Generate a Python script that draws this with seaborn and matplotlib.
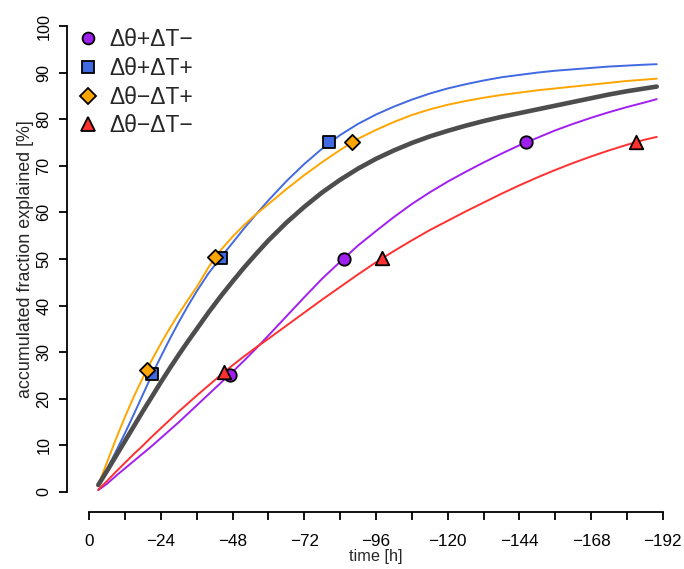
import numpy as np
import pandas as pd
import matplotlib
matplotlib.use("Agg")
import matplotlib.pyplot as plt
import seaborn as sns
from matplotlib.lines import Line2D

# ---- data (hours before event, accumulated fraction explained in %) ----
hours = [3, 6, 9, 12, 15, 18, 21, 24, 27, 30, 33, 36, 40, 44, 48, 52, 56, 60, 66, 72,
         78, 84, 90, 96, 102, 108, 114, 120, 126, 132, 138, 144, 150, 156, 162, 168,
         174, 180, 186, 190]
all_cases = [1.5, 4.6, 7.8, 11.0, 14.2, 17.4, 20.5, 23.6, 26.6, 29.5, 32.3, 35.0, 38.6,
             42.0, 45.2, 48.3, 51.2, 54.0, 57.8, 61.2, 64.3, 67.0, 69.4, 71.5, 73.3, 74.9,
             76.3, 77.5, 78.6, 79.6, 80.5, 81.3, 82.1, 82.9, 83.7, 84.5, 85.3, 86.0, 86.6, 87.0]
th_pos_T_neg = [0.4, 1.8, 3.5, 5.1, 6.7, 8.3, 9.9, 11.6, 13.3, 15.0, 16.8, 18.6, 21.0,
                23.4, 25.8, 28.3, 30.9, 33.6, 37.7, 41.8, 45.8, 49.4, 52.9, 56.0, 59.0,
                61.8, 64.3, 66.6, 68.7, 70.7, 72.6, 74.4, 76.0, 77.6, 79.0, 80.3, 81.5,
                82.6, 83.6, 84.3]
th_pos_T_pos = [1.5, 5.0, 8.8, 12.7, 16.8, 21.0, 25.2, 29.1, 32.9, 36.5, 39.9, 43.1, 47.0,
                50.3, 53.5, 56.7, 59.7, 62.6, 66.7, 70.4, 73.7, 76.6, 79.0, 81.0, 82.7,
                84.2, 85.5, 86.6, 87.5, 88.3, 89.0, 89.5, 90.0, 90.4, 90.7, 91.0, 91.3,
                91.5, 91.7, 91.8]
th_neg_T_pos = [1.5, 6.5, 11.5, 16.2, 20.6, 24.6, 28.4, 31.9, 35.2, 38.3, 41.2, 44.0, 48.3,
                51.9, 54.8, 57.4, 59.7, 61.8, 65.0, 68.0, 70.8, 73.4, 75.8, 77.7, 79.4,
                80.9, 82.1, 83.1, 83.9, 84.6, 85.2, 85.7, 86.2, 86.6, 87.0, 87.4, 87.8,
                88.2, 88.5, 88.7]
th_neg_T_neg = [0.5, 2.4, 4.4, 6.3, 8.2, 10.0, 11.9, 13.7, 15.5, 17.3, 19.0, 20.7, 22.9,
                25.1, 27.2, 29.2, 31.1, 32.9, 35.7, 38.5, 41.3, 44.0, 46.7, 49.3, 51.7,
                54.0, 56.2, 58.2, 60.2, 62.1, 64.0, 65.8, 67.5, 69.1, 70.6, 72.0, 73.3,
                74.5, 75.6, 76.2]

series_names = ["Δθ+ΔT−", "Δθ+ΔT+", "Δθ−ΔT+", "Δθ−ΔT−"]
series_values = [th_pos_T_neg, th_pos_T_pos, th_neg_T_pos, th_neg_T_neg]

# marker points (hours, %)
mark_hours = {
    "Δθ+ΔT−": [47.1, 85.3, 146.2],
    "Δθ+ΔT+": [21.0, 44.1, 80.3],
    "Δθ−ΔT+": [19.3, 42.1, 88.0],
    "Δθ−ΔT−": [45.1, 98.0, 183.1],
}
mark_vals = {
    "Δθ+ΔT−": [25.1, 50.0, 75.1],
    "Δθ+ΔT+": [25.3, 50.2, 75.2],
    "Δθ−ΔT+": [26.2, 50.4, 75.2],
    "Δθ−ΔT−": [25.8, 50.2, 75.2],
}

xticks = [0, -12, -24, -36, -48, -60, -72, -84, -96, -108, -120, -132, -144, -156, -168, -180, -192]
xticklabels = ["0", "", "−24", "", "−48", "", "−72", "", "−96", "", "−120", "", "−144", "", "−168", "", "−192"]
yticks = [0, 10, 20, 30, 40, 50, 60, 70, 80, 90, 100]

colors = {"Δθ+ΔT−": "#A020F0", "Δθ+ΔT+": "#4169E1", "Δθ−ΔT+": "#FFA500", "Δθ−ΔT−": "#FF3030"}
markers = {"Δθ+ΔT−": "o", "Δθ+ΔT+": "s", "Δθ−ΔT+": "D", "Δθ−ΔT−": "^"}
msize = {"Δθ+ΔT−": 80, "Δθ+ΔT+": 64, "Δθ−ΔT+": 60, "Δθ−ΔT−": 95}
lsize = {"Δθ+ΔT−": 8.5, "Δθ+ΔT+": 8, "Δθ−ΔT+": 8, "Δθ−ΔT−": 9.5}

sns.set_style("white")
plt.rcParams["font.family"] = ["Liberation Sans", "DejaVu Sans"]

fig = plt.figure(figsize=(6.84, 5.69), dpi=100)
W, H = 684, 569
x0, x1 = 89.3, 662.7
y0, y1 = 492.0, 26.0
ax = fig.add_axes([x0 / W, (H - y0) / H, (x1 - x0) / W, (y0 - y1) / H])

lines_df = pd.DataFrame({
    "time": np.concatenate([-np.array(hours)] * 4),
    "value": np.concatenate(series_values),
    "case": np.repeat(series_names, len(hours)),
})
all_df = pd.DataFrame({"time": -np.array(hours), "value": all_cases})

for name in series_names:
    sub = lines_df[lines_df["case"] == name]
    sns.lineplot(data=sub, x="time", y="value", color=colors[name], lw=1.4,
                 ax=ax, clip_on=False, sort=False)
sns.lineplot(data=all_df, x="time", y="value", color="#4D4D4D", lw=3.3, ax=ax,
             clip_on=False, sort=False)

for name in series_names:
    mdf = pd.DataFrame({"time": -np.array(mark_hours[name]), "value": mark_vals[name]})
    sns.scatterplot(data=mdf, x="time", y="value", marker=markers[name], s=msize[name],
                    color=colors[name], edgecolor="black", linewidth=1.3, ax=ax,
                    clip_on=False, zorder=5)

ax.set_xlim(0, -192)
ax.set_ylim(0, 100)

for s in ["top", "right"]:
    ax.spines[s].set_visible(False)
ax.spines["left"].set_position(("outward", 16.3))
ax.spines["bottom"].set_position(("outward", 14.2))
ax.spines["left"].set_bounds(0, 100)
ax.spines["bottom"].set_bounds(-192, 0)
for s in ["left", "bottom"]:
    ax.spines[s].set_color("black")
    ax.spines[s].set_linewidth(1.3)
ax.tick_params(axis="both", direction="out", length=6, width=1.3, color="black",
               labelcolor="black", bottom=True, left=True)
ax.tick_params(axis="x", pad=10, labelsize=12.3)
ax.tick_params(axis="y", pad=5, labelsize=11.7)
ax.grid(False)

ax.set_xticks(xticks)
ax.set_xticklabels(xticklabels)
ax.set_yticks(yticks)
ax.set_yticklabels([str(v) for v in yticks], rotation=90, va="center")
ax.set_xlabel("time [h]", fontsize=11.7, labelpad=0)
ax.set_ylabel("accumulated fraction explained [%]", fontsize=12.9, labelpad=2)

handles = [Line2D([], [], linestyle="none", marker=markers[n], markersize=lsize[n],
                  markerfacecolor=colors[n], markeredgecolor="black", markeredgewidth=1.3)
           for n in series_names]
ax.legend(handles, series_names, loc="upper left", bbox_to_anchor=(67 / W, 1 - 19 / H),
          bbox_transform=fig.transFigure, frameon=False, fontsize=16.5,
          handletextpad=0.45, labelspacing=0.25, handlelength=1.0, borderaxespad=0)

fig.savefig("out.png", dpi=100)
